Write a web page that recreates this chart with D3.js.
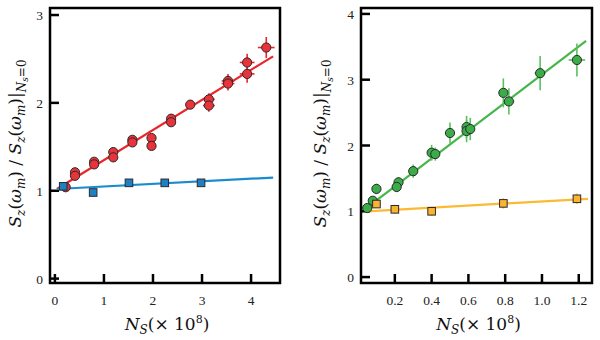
<!DOCTYPE html>
<html>
<head>
<meta charset="utf-8">
<script src="https://cdn.jsdelivr.net/npm/d3@7"></script>
<style>
  body { margin: 0; background: #fff; }
  svg text { font-family: "Liberation Serif", "DejaVu Serif", serif; }
  .tick-label { font-size: 13.5px; fill: #222; }
  .axis-title { font-family: "DejaVu Serif", serif !important; font-size: 17px; fill: #111; }
</style>
</head>
<body>
<div id="chart"></div>
<script>
// left panel: red circles + blue squares
var redX    = [4.31, 3.92, 3.92, 3.53, 3.53, 3.14, 3.14, 2.76, 2.37, 2.37, 1.97, 1.97, 1.58, 1.58, 1.19, 1.19, 0.80, 0.80, 0.41, 0.41, 0.22];
var redY    = [2.63, 2.46, 2.33, 2.25, 2.22, 2.04, 1.97, 1.98, 1.82, 1.78, 1.60, 1.51, 1.58, 1.55, 1.44, 1.38, 1.33, 1.30, 1.21, 1.17, 1.04];
var redXErr = [0.17, 0.15, 0.15, 0.13, 0.13, 0.12, 0.12, 0.10, 0.06, 0.06, 0.04, 0.04, 0.04, 0.04, 0.03, 0.03, 0.02, 0.02, 0.02, 0.02, 0.02];
var redYErr = [0.12, 0.10, 0.10, 0.08, 0.08, 0.07, 0.07, 0.05, 0.03, 0.03, 0.03, 0.03, 0.03, 0.03, 0.02, 0.02, 0.02, 0.02, 0.02, 0.02, 0.02];
var redFit  = [[0.04, 1.02], [4.45, 2.53]];

var blueX = [0.17, 0.78, 1.51, 2.24, 2.98];
var blueY = [1.05, 0.98, 1.09, 1.09, 1.09];
var blueFit = [[0.04, 1.02], [4.45, 1.15]];

var leftXTicks = [0, 1, 2, 3, 4];
var leftYTicks = [0, 1, 2, 3];

// right panel: green circles + yellow squares
var greenX    = [1.19, 0.99, 0.79, 0.82, 0.59, 0.59, 0.61, 0.50, 0.40, 0.42, 0.30, 0.22, 0.21, 0.10, 0.08, 0.05];
var greenY    = [3.30, 3.10, 2.80, 2.67, 2.28, 2.22, 2.25, 2.19, 1.89, 1.87, 1.61, 1.44, 1.37, 1.34, 1.16, 1.05];
var greenXErr = [0.045, 0.03, 0.02, 0.03, 0.01, 0.01, 0.01, 0.01, 0.01, 0.01, 0.01, 0.01, 0.01, 0.005, 0.005, 0.005];
var greenYErr = [0.25, 0.26, 0.22, 0.20, 0.17, 0.17, 0.17, 0.16, 0.12, 0.10, 0.10, 0.08, 0.08, 0.08, 0.06, 0.06];
var greenFit  = [[0.05, 1.06], [1.24, 3.59]];

var yellowX    = [0.10, 0.20, 0.40, 0.79, 1.19];
var yellowY    = [1.11, 1.03, 1.00, 1.12, 1.19];
var yellowYErr = [0.06, 0.07, 0.07, 0.08, 0.08];
var yellowFit  = [[0.05, 1.00], [1.25, 1.19]];

var rightXTicks = [0.2, 0.4, 0.6, 0.8, 1.0, 1.2];
var rightYTicks = [0, 1, 2, 3, 4];

var svg = d3.select("#chart").append("svg")
  .attr("width", 600)
  .attr("height", 340);

function drawPanel(opt) {
  var x = d3.scaleLinear().domain(opt.xDomain).range([opt.left, opt.right]);
  var y = d3.scaleLinear().domain(opt.yDomain).range([opt.bottom, opt.top]);
  var g = svg.append("g");

  // ticks (inward)
  g.selectAll(".xt").data(opt.xTicks).enter().append("line")
    .attr("x1", function (d) { return x(d); })
    .attr("x2", function (d) { return x(d); })
    .attr("y1", opt.bottom)
    .attr("y2", opt.bottom - 9)
    .attr("stroke", "#000").attr("stroke-width", 2.5);
  g.selectAll(".yt").data(opt.yTicks).enter().append("line")
    .attr("x1", opt.left)
    .attr("x2", opt.left + 9)
    .attr("y1", function (d) { return y(d); })
    .attr("y2", function (d) { return y(d); })
    .attr("stroke", "#000").attr("stroke-width", 2.5);

  g.selectAll(".xl").data(opt.xTicks).enter().append("text")
    .attr("class", "tick-label")
    .attr("x", function (d) { return x(d); })
    .attr("y", opt.bottom + 22)
    .attr("text-anchor", "middle")
    .text(function (d) { return opt.xFmt(d); });
  g.selectAll(".yl").data(opt.yTicks).enter().append("text")
    .attr("class", "tick-label")
    .attr("x", opt.left - 7)
    .attr("y", function (d) { return y(d) + 5; })
    .attr("text-anchor", "end")
    .text(function (d) { return d; });

  // fit lines
  var line = d3.line().x(function (d) { return x(d[0]); }).y(function (d) { return y(d[1]); });
  opt.fits.forEach(function (f) {
    g.append("path").datum(f.pts)
      .attr("d", line)
      .attr("fill", "none")
      .attr("stroke", f.color)
      .attr("stroke-width", 2.2);
  });

  // series
  opt.series.forEach(function (s) {
    var pts = s.xs.map(function (v, i) {
      return { x: v, y: s.ys[i], ex: s.xe ? s.xe[i] : 0, ey: s.ye ? s.ye[i] : 0 };
    });
    var eg = g.append("g");
    eg.selectAll(".ey").data(pts).enter().append("line")
      .attr("x1", function (d) { return x(d.x); })
      .attr("x2", function (d) { return x(d.x); })
      .attr("y1", function (d) { return y(d.y - d.ey); })
      .attr("y2", function (d) { return y(d.y + d.ey); })
      .attr("stroke", s.errColor).attr("stroke-width", 1.6);
    eg.selectAll(".ex").data(pts).enter().append("line")
      .attr("x1", function (d) { return x(d.x - d.ex); })
      .attr("x2", function (d) { return x(d.x + d.ex); })
      .attr("y1", function (d) { return y(d.y); })
      .attr("y2", function (d) { return y(d.y); })
      .attr("stroke", s.errColor).attr("stroke-width", 1.6);

    if (s.shape === "circle") {
      eg.selectAll(".pt").data(pts).enter().append("circle")
        .attr("cx", function (d) { return x(d.x); })
        .attr("cy", function (d) { return y(d.y); })
        .attr("r", 4.6)
        .attr("fill", s.color)
        .attr("stroke", "#2a2a2a").attr("stroke-width", 1);
    } else {
      eg.selectAll(".pt").data(pts).enter().append("rect")
        .attr("x", function (d) { return x(d.x) - 3.8; })
        .attr("y", function (d) { return y(d.y) - 3.8; })
        .attr("width", 7.6).attr("height", 7.6)
        .attr("fill", s.color)
        .attr("stroke", "#2a2a2a").attr("stroke-width", 1);
    }
  });

  // frame
  g.append("rect")
    .attr("x", opt.left).attr("y", opt.top)
    .attr("width", opt.right - opt.left)
    .attr("height", opt.bottom - opt.top)
    .attr("fill", "none")
    .attr("stroke", "#000").attr("stroke-width", 2.5);

  // y axis title
  var yt = g.append("text")
    .attr("class", "axis-title")
    .attr("transform", "translate(" + opt.yTitleX + "," + ((opt.top + opt.bottom) / 2 - 2) + ") rotate(-90)")
    .attr("text-anchor", "middle")
    .attr("font-style", "italic");
  yt.append("tspan").text("S");
  yt.append("tspan").attr("font-size", "12px").attr("dy", 4).text("z");
  yt.append("tspan").attr("dy", -4).attr("font-style", "normal").text("(");
  yt.append("tspan").text("ω");
  yt.append("tspan").attr("font-size", "12px").attr("dy", 4).text("m");
  yt.append("tspan").attr("dy", -4).attr("font-style", "normal").text(") / ");
  yt.append("tspan").text("S");
  yt.append("tspan").attr("font-size", "12px").attr("dy", 4).text("z");
  yt.append("tspan").attr("dy", -4).attr("font-style", "normal").text("(");
  yt.append("tspan").text("ω");
  yt.append("tspan").attr("font-size", "12px").attr("dy", 4).text("m");
  yt.append("tspan").attr("dy", -4).attr("font-style", "normal").text(")|");
  yt.append("tspan").attr("font-size", "12px").attr("dy", 5).text("N");
  yt.append("tspan").attr("font-size", "9px").attr("dy", 2).text("s");
  yt.append("tspan").attr("font-size", "12px").attr("dy", -2).attr("font-style", "normal").text("=0");

  // x axis title
  var xt = g.append("text")
    .attr("class", "axis-title")
    .attr("x", (opt.left + opt.right) / 2 + 2)
    .attr("y", opt.bottom + 47)
    .attr("text-anchor", "middle");
  xt.append("tspan").attr("font-style", "italic").text("N");
  xt.append("tspan").attr("font-style", "italic").attr("font-size", "12px").attr("dy", 4).text("S");
  xt.append("tspan").attr("dy", -4).text("(× 10");
  xt.append("tspan").attr("font-size", "11px").attr("dy", -7).text("8");
  xt.append("tspan").attr("dy", 7).text(")");
}

drawPanel({
  left: 50, right: 280, top: 8, bottom: 283,
  xDomain: [-0.1, 4.59], yDomain: [-0.05, 3.08],
  xTicks: leftXTicks, yTicks: leftYTicks,
  xFmt: function (d) { return d; },
  yTitleX: 21,
  fits: [{ pts: redFit, color: "#e8262c" }, { pts: blueFit, color: "#1b8bd0" }],
  series: [
    { xs: redX, ys: redY, xe: redXErr, ye: redYErr, color: "#e8333b", errColor: "#e8262c", shape: "circle" },
    { xs: blueX, ys: blueY, color: "#1f80c6", errColor: "#1b8bd0", shape: "square" }
  ]
});

drawPanel({
  left: 361, right: 592, top: 8, bottom: 283,
  xDomain: [0.016, 1.272], yDomain: [-0.09, 4.09],
  xTicks: rightXTicks, yTicks: rightYTicks,
  xFmt: function (d) { return d.toFixed(1); },
  yTitleX: 326,
  fits: [{ pts: greenFit, color: "#45b649" }, { pts: yellowFit, color: "#fdb933" }],
  series: [
    { xs: greenX, ys: greenY, xe: greenXErr, ye: greenYErr, color: "#3aad48", errColor: "#5cbf5e", shape: "circle" },
    { xs: yellowX, ys: yellowY, ye: yellowYErr, color: "#fbb432", errColor: "#fdc55a", shape: "square" }
  ]
});
</script>
</body>
</html>
